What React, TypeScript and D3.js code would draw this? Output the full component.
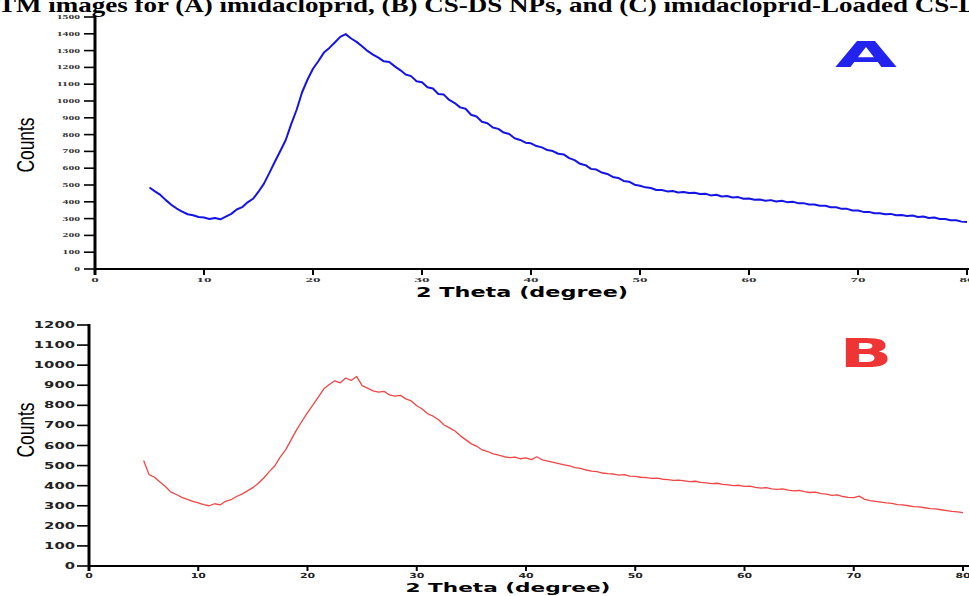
import React from "react";
import * as d3 from "d3";

// 2θ grid shared by both scans (5° to 80°, 0.5° step)
const twoTheta = d3.range(5, 80.001, 0.5);

// (A) imidacloprid
const countsA = [
  485, 462, 441, 410, 382, 360, 342, 326, 320, 310,
  306, 298, 304, 296, 312, 328, 354, 368, 397, 418,
  460, 508, 572, 638, 702, 768, 862, 948, 1052, 1128,
  1192, 1238, 1288, 1316, 1348, 1382, 1398, 1372, 1352, 1326,
  1298, 1276, 1258, 1236, 1232, 1206, 1184, 1158, 1148, 1118,
  1112, 1082, 1074, 1042, 1038, 1006, 988, 962, 954, 918,
  908, 876, 868, 842, 834, 812, 804, 778, 768, 752,
  748, 732, 724, 708, 702, 686, 682, 660, 648, 626,
  618, 596, 592, 574, 566, 548, 542, 524, 520, 502,
  496, 486, 482, 470, 470, 462, 464, 455, 458, 452,
  454, 446, 448, 438, 442, 432, 434, 426, 428, 418,
  420, 412, 414, 406, 410, 402, 406, 398, 400, 392,
  392, 384, 384, 376, 376, 368, 368, 358, 358, 348,
  348, 340, 340, 332, 332, 326, 328, 320, 322, 316,
  318, 310, 312, 304, 306, 298, 298, 290, 290, 282,
  280
];

// (B) CS-DS NPs
const countsB = [
  525, 455, 442, 418, 396, 368, 356, 342, 332, 322,
  314, 306, 300, 310, 304, 322, 330, 346, 358, 374,
  390, 412, 438, 470, 498, 542, 578, 628, 678, 722,
  764, 802, 842, 882, 904, 922, 912, 936, 924, 944,
  898, 886, 872, 866, 870, 852, 846, 850, 832, 822,
  798, 782, 758, 746, 728, 702, 688, 672, 648, 628,
  608, 596, 578, 570, 558, 552, 544, 540, 542, 534,
  538, 530, 544, 528, 522, 516, 510, 504, 498, 490,
  486, 478, 472, 470, 463, 460, 458, 452, 455, 448,
  446, 442, 440, 436, 438, 432, 430, 426, 428, 424,
  420, 422, 416, 414, 410, 412, 406, 404, 400, 402,
  396, 398, 392, 388, 390, 384, 382, 384, 378, 374,
  376, 370, 366, 368, 360, 358, 352, 354, 346, 342,
  340, 348, 332, 326, 322, 318, 314, 312, 306, 304,
  300, 296, 294, 290, 286, 284, 280, 276, 272, 270,
  266
];

const xTicks = [0, 10, 20, 30, 40, 50, 60, 70, 80];
const yTicksA = d3.range(0, 1501, 100);
const yTicksB = d3.range(0, 1201, 100);

const title = "TM images for (A) imidacloprid, (B) CS-DS NPs, and (C) imidacloprid-Loaded CS-DS NPs";

export default function App() {
  const xA = d3.scaleLinear().domain([0, 80]).range([95, 967]);
  const yA = d3.scaleLinear().domain([0, 1500]).range([269, 17]);
  const xB = d3.scaleLinear().domain([0, 80]).range([89, 963]);
  const yB = d3.scaleLinear().domain([0, 1200]).range([566, 325]);

  const lineA = d3.line<number>().x((d, i) => xA(twoTheta[i])).y((d) => yA(d));
  const lineB = d3.line<number>().x((d, i) => xB(twoTheta[i])).y((d) => yB(d));

  const serif = "'Liberation Serif', 'Times New Roman', serif";
  const sans = "'DejaVu Sans', 'Liberation Sans', sans-serif";
  const narrow = "'Liberation Sans Narrow', 'Liberation Sans', Arial, sans-serif";

  return (
    <svg width={969} height={596} style={{position: "absolute", left: 0, top: 0, background: "#fff"}}>
      <text x={-2} y={12} fontFamily={serif} fontWeight="bold" fontSize={21}
        textLength={1048} lengthAdjust="spacingAndGlyphs" fill="#000">{title}</text>

      {/* chart A */}
      <g>
        {yTicksA.map((t) => (
          <g key={t}>
            <line x1={84} x2={95} y1={yA(t)} y2={yA(t)} stroke="#000" strokeWidth={1.6} />
            <text x={80} y={yA(t) + 2} textAnchor="end" fontFamily={serif} fontWeight="bold" fontSize={6}
              textLength={String(t).length * 5.8} lengthAdjust="spacingAndGlyphs" fill="#333">{t}</text>
          </g>
        ))}
        {xTicks.map((t) => (
          <g key={t}>
            <line x1={xA(t)} x2={xA(t)} y1={269} y2={275} stroke="#000" strokeWidth={2} />
            <text x={xA(t)} y={282} textAnchor="middle" fontFamily={serif} fontWeight="bold" fontSize={6.5}
              textLength={String(t).length * 7.5} lengthAdjust="spacingAndGlyphs" fill="#333">{t}</text>
          </g>
        ))}
        <line x1={95} x2={95} y1={16} y2={275} stroke="#000" strokeWidth={3} />
        <line x1={94} x2={969} y1={269} y2={269} stroke="#000" strokeWidth={2} />
        <path d={lineA(countsA) || ""} fill="none" stroke="#1414e6" strokeWidth={2} strokeLinejoin="round" />
        <text transform="translate(34,145) rotate(-90)" textAnchor="middle" fontFamily={narrow} fontSize={24}
          textLength={55} lengthAdjust="spacingAndGlyphs" fill="#000">Counts</text>
        <text x={522} y={297} textAnchor="middle" fontFamily={sans} fontWeight="bold" fontSize={14}
          textLength={212} lengthAdjust="spacingAndGlyphs" fill="#000">2 Theta (degree)</text>
        <text x={866} y={67} textAnchor="middle" fontFamily={sans} fontWeight="bold" fontSize={35}
          textLength={62} lengthAdjust="spacingAndGlyphs" fill="#2323ef">A</text>
      </g>

      {/* chart B */}
      <g>
        {yTicksB.map((t) => (
          <g key={t}>
            <line x1={77} x2={89} y1={yB(t)} y2={yB(t)} stroke="#000" strokeWidth={1.6} />
            <text x={75} y={yB(t) + 3} textAnchor="end" fontFamily={sans} fontWeight="bold" fontSize={8}
              textLength={String(t).length * 10.3} lengthAdjust="spacingAndGlyphs" fill="#222">{t}</text>
          </g>
        ))}
        {xTicks.map((t) => (
          <g key={t}>
            <line x1={xB(t)} x2={xB(t)} y1={566} y2={571} stroke="#000" strokeWidth={2} />
            <text x={xB(t)} y={578} textAnchor="middle" fontFamily={sans} fontWeight="bold" fontSize={7}
              textLength={String(t).length * 7.6} lengthAdjust="spacingAndGlyphs" fill="#222">{t}</text>
          </g>
        ))}
        <line x1={89} x2={89} y1={324} y2={571} stroke="#000" strokeWidth={3} />
        <line x1={88} x2={969} y1={566} y2={566} stroke="#000" strokeWidth={2} />
        <path d={lineB(countsB) || ""} fill="none" stroke="#f04646" strokeWidth={1.3} strokeLinejoin="round" />
        <text transform="translate(34,430) rotate(-90)" textAnchor="middle" fontFamily={narrow} fontSize={24}
          textLength={55} lengthAdjust="spacingAndGlyphs" fill="#000">Counts</text>
        <text x={508} y={592} textAnchor="middle" fontFamily={sans} fontWeight="bold" fontSize={13}
          textLength={205} lengthAdjust="spacingAndGlyphs" fill="#000">2 Theta (degree)</text>
        <text x={866} y={367} textAnchor="middle" fontFamily={sans} fontWeight="bold" fontSize={39}
          textLength={53} lengthAdjust="spacingAndGlyphs" fill="#ee3434">B</text>
      </g>
    </svg>
  );
}
